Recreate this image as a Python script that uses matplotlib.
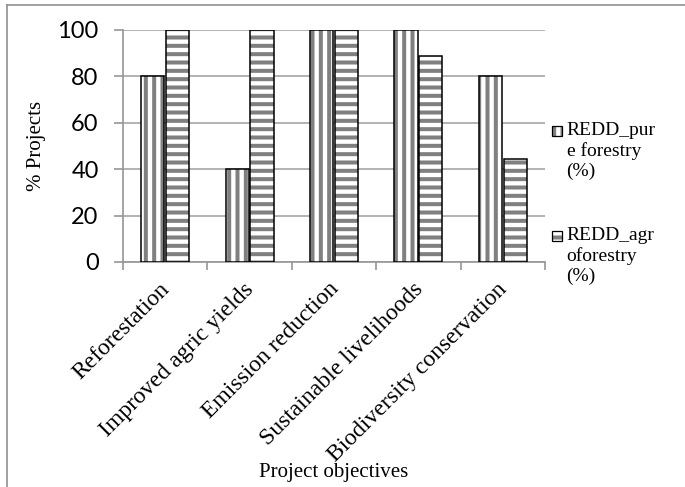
import matplotlib
matplotlib.use("Agg")
import matplotlib.pyplot as plt
import matplotlib.transforms as mtransforms
import numpy as np
from matplotlib.patches import Patch, Rectangle
from matplotlib.legend_handler import HandlerBase
from matplotlib.lines import Line2D

objectives = ["Reforestation", "Improved agric yields", "Emission reduction",
              "Sustainable livelihoods", "Biodiversity conservation"]
pure_forestry = [80, 40, 100, 100, 80]
agroforestry = [100, 100, 100, 88.9, 44.4]
series_names = ["REDD_pur\ne forestry\n(%)", "REDD_agr\noforestry\n(%)"]

serif = "Liberation Serif"
stripe = "#808080"
plt.rcParams["hatch.linewidth"] = 2.9


class FirstLineSquare(HandlerBase):
    # small hatched square sitting next to the first line of a wrapped label
    def create_artists(self, legend, orig_handle, xdescent, ydescent, width,
                       height, fontsize, trans):
        s = 0.5 * fontsize
        y = 1.37 * fontsize - s / 2
        fill = Rectangle((-xdescent, y), s, s, facecolor="white", edgecolor=stripe,
                         hatch=orig_handle.get_hatch(), linewidth=0, transform=trans)
        edge = Rectangle((-xdescent, y), s, s, fill=False, edgecolor="black",
                         linewidth=0.9, transform=trans)
        return [fill, edge]


fig = plt.figure(figsize=(6.85, 4.87), dpi=100)
ax = fig.add_axes([123 / 685, 1 - 262 / 487, (545 - 123) / 685, 232 / 487])

x = np.arange(len(objectives))
w = 0.275

# hatched fill first, then a black outline on top
ax.bar(x - w / 2 - 0.01, pure_forestry, w, color="white", edgecolor=stripe,
       hatch="||", linewidth=0, zorder=3)
ax.bar(x - w / 2 - 0.01, pure_forestry, w, fill=False, edgecolor="black",
       linewidth=1.1, zorder=4)
ax.bar(x + w / 2 + 0.01, agroforestry, w, color="white", edgecolor=stripe,
       hatch="--", linewidth=0, zorder=3)
ax.bar(x + w / 2 + 0.01, agroforestry, w, fill=False, edgecolor="black",
       linewidth=1.1, zorder=4)

ax.set_xlim(-0.5, len(objectives) - 0.5)
ax.set_ylim(0, 100)
ax.set_yticks(range(0, 101, 20))
ax.grid(axis="y", color="#a6a6a6", linewidth=1.2, zorder=0)
ax.set_axisbelow(True)

for side in ["top", "right"]:
    ax.spines[side].set_visible(False)
for side in ["left", "bottom"]:
    ax.spines[side].set_color("#969696")
    ax.spines[side].set_linewidth(1.2)

ax.tick_params(axis="y", direction="out", length=6.5, width=1.2, color="#969696",
               pad=11, labelsize=17)
for lab in ax.get_yticklabels():
    lab.set_fontfamily("Lato")

ax.set_xticks(x)
ax.set_xticks(np.arange(-0.5, len(objectives)), minor=True)
ax.tick_params(axis="x", which="major", length=0, pad=12)
ax.tick_params(axis="x", which="minor", direction="out", length=6, width=1.2,
               color="#969696")
ax.set_xticklabels(objectives, rotation=45, ha="right", rotation_mode="anchor",
                   fontfamily=serif, fontsize=17)
shift = mtransforms.ScaledTranslation(-6 / 100, 0, fig.dpi_scale_trans)
for lab in ax.get_xticklabels():
    lab.set_transform(lab.get_transform() + shift)

ax.set_ylabel("% Projects", fontfamily=serif, fontsize=15)
ax.yaxis.set_label_coords((46 - 123) / 422, 0.5)
fig.text(334 / 685, 1 - 472 / 487, "Project objectives", ha="center", va="center",
         fontfamily=serif, fontsize=15)

handles = [Patch(hatch="||"), Patch(hatch="--")]
fig.legend(handles, series_names, handler_map={Patch: FirstLineSquare()},
           loc="upper left", bbox_to_anchor=(552 / 685, 1 - 122 / 487),
           frameon=False, prop={"family": serif, "size": 14},
           handlelength=0.55, handletextpad=0.2,
           labelspacing=2.45, borderaxespad=0, borderpad=0)

# outer frame lines on the left and top edge
fig.add_artist(Line2D([7 / 685, 7 / 685], [0, 1 - 5 / 487], color="#909090",
                      linewidth=1.2, transform=fig.transFigure))
fig.add_artist(Line2D([7 / 685, 1], [1 - 5 / 487, 1 - 5 / 487], color="#909090",
                      linewidth=1.2, transform=fig.transFigure))

fig.savefig("out.png", dpi=100)
